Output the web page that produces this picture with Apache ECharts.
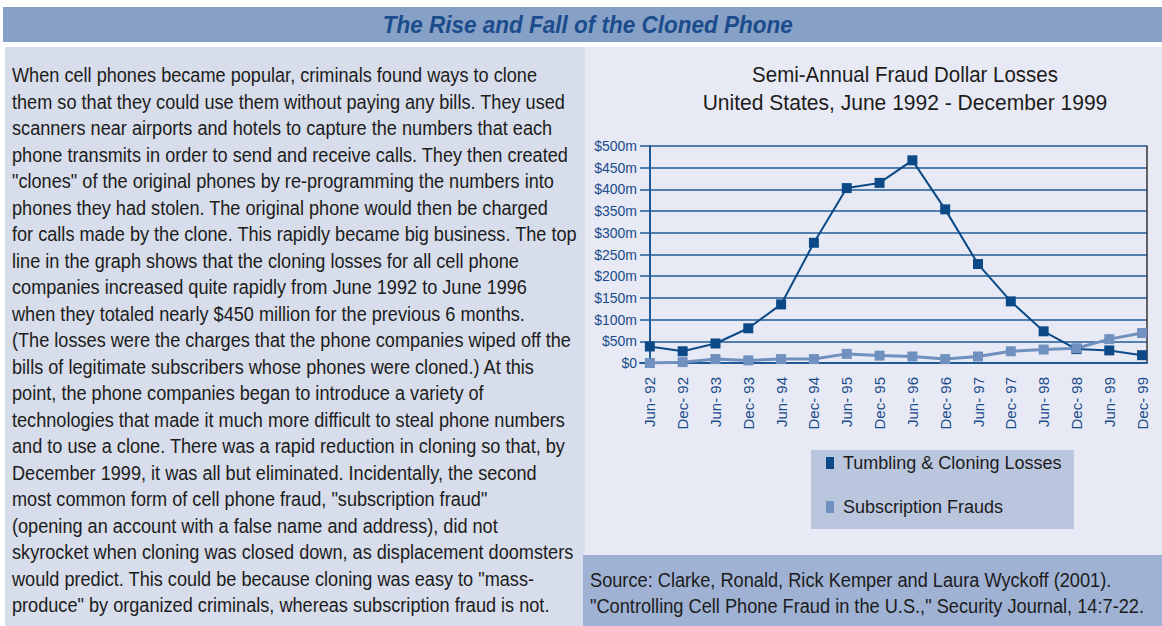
<!DOCTYPE html>
<html>
<head>
<meta charset="utf-8">
<title>The Rise and Fall of the Cloned Phone</title>
<script src="https://cdn.jsdelivr.net/npm/echarts@6/dist/echarts.min.js"></script>
<style>
    body { margin: 0; width: 1162px; height: 626px; background: #fff; position: relative; overflow: hidden;
           font-family: 'Liberation Sans', Arial, sans-serif; color: #1c1c1c; }
    #banner { position: absolute; left: 3px; top: 7px; width: 1159px; height: 35px; background: #87a0c6; }
    #banner span { position: absolute; left: 585px; top: 0; line-height: 35px; white-space: nowrap;
                   font-size: 24px; font-weight: bold; font-style: italic; color: #1b4c8c; }
    #story { position: absolute; left: 5px; top: 47px; width: 579px; height: 579px; background: #d7ddea; }
    #story .lines { position: absolute; left: 7px; top: 15px; font-size: 20px; line-height: 26.5px; white-space: nowrap; }
    #right { position: absolute; left: 584px; top: 47px; width: 578px; height: 579px; background: #e7eaf4;
             border-left: 1px solid #dde2ee; box-sizing: border-box; }
    #chart { position: absolute; left: 585px; top: 47px; width: 577px; height: 509px; }
    #source { position: absolute; left: 583px; top: 555px; width: 579px; height: 71px; background: #9fb2d3;
              font-size: 20px; line-height: 26px; white-space: nowrap; }
    #source div { position: absolute; left: 7px; top: 12px; }
</style>
</head>
<body>
<div id="banner"><span id="bannerText">The Rise and Fall of the Cloned Phone</span></div>
<div id="story"><div class="lines" id="storyLines">
<span id="firstLine">When cell phones became popular, criminals found ways to clone</span><br>
them so that they could use them without paying any bills. They used<br>
scanners near airports and hotels to capture the numbers that each<br>
phone transmits in order to send and receive calls. They then created<br>
"clones" of the original phones by re-programming the numbers into<br>
phones they had stolen. The original phone would then be charged<br>
for calls made by the clone. This rapidly became big business. The top<br>
line in the graph shows that the cloning losses for all cell phone<br>
companies increased quite rapidly from June 1992 to June 1996<br>
when they totaled nearly $450 million for the previous 6 months.<br>
(The losses were the charges that the phone companies wiped off the<br>
bills of legitimate subscribers whose phones were cloned.) At this<br>
point, the phone companies began to introduce a variety of<br>
technologies that made it much more difficult to steal phone numbers<br>
and to use a clone. There was a rapid reduction in cloning so that, by<br>
December 1999, it was all but eliminated. Incidentally, the second<br>
most common form of cell phone fraud, "subscription fraud"<br>
(opening an account with a false name and address), did not<br>
skyrocket when cloning was closed down, as displacement doomsters<br>
would predict. This could be because cloning was easy to "mass-<br>
produce" by organized criminals, whereas subscription fraud is not.
</div></div>
<div id="right"></div>
<div id="chart"></div>
<div id="source"><div id="sourceLines">
Source: Clarke, Ronald, Rick Kemper and Laura Wyckoff (2001).<br>
<span id="sourceLong">"Controlling Cell Phone Fraud in the U.S.," Security Journal, 14:7-22.</span>
</div></div>
<script>
// 半年度数据 (百万美元)
const periods = ['Jun- 92', 'Dec- 92', 'Jun- 93', 'Dec- 93', 'Jun- 94', 'Dec- 94', 'Jun- 95', 'Dec- 95',
    'Jun- 96', 'Dec- 96', 'Jun- 97', 'Dec- 97', 'Jun- 98', 'Dec- 98', 'Jun- 99', 'Dec- 99'];
const cloningLosses = [38, 27, 45, 80, 135, 277, 403, 415, 467, 354, 228, 142, 73, 32, 29, 18];
const subscriptionFrauds = [0, 2, 9, 6, 9, 9, 21, 17, 15, 9, 15, 27, 31, 34, 55, 69];
const seriesNames = ['Tumbling & Cloning Losses', 'Subscription Frauds'];
const chartTitle = ['Semi-Annual Fraud Dollar Losses', 'United States, June 1992 - December 1999'];

// 把文字横向压窄, 模仿原图的窄体字
function squeeze(el, measureEl, target, origin) {
    const w = measureEl.getBoundingClientRect().width;
    el.style.transformOrigin = origin;
    el.style.transform = 'scaleX(' + (target / w) + ')';
}

window.onload = function () {
    const banner = document.getElementById('bannerText');
    const bw = banner.getBoundingClientRect().width;
    banner.style.left = (588 - 3 - bw / 2) + 'px';
    squeeze(banner, banner, 410, 'center center');
    squeeze(document.getElementById('storyLines'), document.getElementById('firstLine'), 525, 'left top');
    squeeze(document.getElementById('sourceLines'), document.getElementById('sourceLong'), 554, 'left top');

    figureOne();
};

function figureOne() {
    const font = "'Liberation Sans', Arial, sans-serif";
    const axisBlue = '#1f5a95';
    const ctx = document.createElement('canvas').getContext('2d');
    ctx.font = "22px 'Liberation Sans', Arial, sans-serif";
    const titleScale = [306 / ctx.measureText(chartTitle[0]).width, 405 / ctx.measureText(chartTitle[1]).width];

    const myChart = echarts.init(document.getElementById('chart'), null, { renderer: 'svg' });

    const option = {
        animation: false,
        graphic: [
            { type: 'rect', shape: { x: 226, y: 403, width: 263, height: 79 }, style: { fill: '#bac6de' }, z: 0 },
            { type: 'text', x: 320, y: 28, scaleX: titleScale[0], style: { text: chartTitle[0], align: 'center',
                verticalAlign: 'middle', fontSize: 22, fontFamily: font, fill: '#1c1c1c' } },
            { type: 'text', x: 320, y: 56, scaleX: titleScale[1], style: { text: chartTitle[1], align: 'center',
                verticalAlign: 'middle', fontSize: 22, fontFamily: font, fill: '#1c1c1c' } }
        ],
        grid: { left: 55, right: 15, top: 99, bottom: 193 },
        legend: {
            data: seriesNames,
            orient: 'vertical',
            left: 241,
            top: 407,
            padding: 0,
            itemGap: 26,
            itemWidth: 8,
            itemHeight: 12,
            icon: 'rect',
            textStyle: { fontSize: 18, fontFamily: font, color: '#1c1c1c', padding: [0, 0, 0, 4] }
        },
        xAxis: {
            type: 'value',
            min: -0.3,
            max: 15.15,
            axisLine: { show: true, lineStyle: { color: axisBlue, width: 2 } },
            axisTick: { show: false },
            splitLine: { show: false },
            axisLabel: {
                customValues: periods.map(function (p, i) { return i; }),
                formatter: function (v) { return periods[v]; },
                rotate: 90,
                margin: 14,
                fontSize: 15,
                fontFamily: font,
                color: '#1b4c8c'
            }
        },
        yAxis: [
            {
                type: 'value',
                min: 0,
                max: 500,
                interval: 50,
                axisLine: { show: true, lineStyle: { color: axisBlue, width: 2 } },
                axisTick: { show: false },
                splitLine: { lineStyle: { color: axisBlue, width: 1.5 } },
                axisLabel: {
                    margin: 3,
                    fontSize: 14,
                    fontFamily: font,
                    color: '#1b4c8c',
                    formatter: function (v) { return v === 0 ? '$0' : '$' + v + 'm'; }
                }
            },
            {
                type: 'value',
                position: 'right',
                min: 0,
                max: 500,
                axisLine: { show: true, lineStyle: { color: '#333', width: 1.5 } },
                axisTick: { show: false },
                axisLabel: { show: false },
                splitLine: { show: false }
            }
        ],
        series: [
            {
                name: seriesNames[0],
                type: 'line',
                data: cloningLosses.map(function (v, i) { return [i, v]; }),
                color: '#0b4a87',
                lineStyle: { width: 2 },
                symbol: 'rect',
                symbolSize: 10
            },
            {
                name: seriesNames[1],
                type: 'line',
                data: subscriptionFrauds.map(function (v, i) { return [i, v]; }),
                color: '#7090bf',
                lineStyle: { width: 3 },
                symbol: 'rect',
                symbolSize: 10
            }
        ]
    };

    option && myChart.setOption(option);
}
</script>
</body>
</html>
